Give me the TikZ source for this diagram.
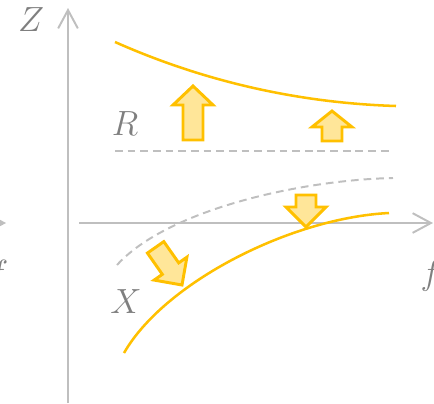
\documentclass[tikz,border=0pt]{standalone}
\usetikzlibrary{arrows.meta}

\definecolor{gold}{HTML}{FFC000}
\definecolor{goldfill}{HTML}{FFE699}
\definecolor{axisgray}{HTML}{BFBFBF}
\definecolor{labelgray}{HTML}{7F7F7F}

% fat block arrow: tip x, tip y, rotation, length, head length
\newcommand{\fatarrow}[5]{%
  \draw[fatarr, shift={(#1,#2)}, rotate=#3]
    (0,0) -- (20,#5) -- (10,#5) -- (10,#4) -- (-10,#4) -- (-10,#5) -- (-20,#5) -- cycle;}

\begin{document}
\begin{tikzpicture}[
        x=0.025cm, y=-0.025cm,
        axis/.style={draw=axisgray, line width=1.4pt, -{Straight Barb[length=13pt, width=14pt, line width=1.4pt]}},
        guide/.style={draw=axisgray, line width=1.4pt, dash pattern=on 5.5pt off 3.5pt},
        curve/.style={draw=gold, line width=1.8pt},
        fatarr/.style={draw=gold, fill=goldfill, line width=2.1pt, line join=miter},
        lbl/.style={text=labelgray, inner sep=0pt, font=\fontsize{25}{30}\selectfont}
    ]
        \useasboundingbox (0,0) rectangle (434,403);
        \clip (0,0) rectangle (434,403);

        % axes
        \draw[axis] (68,403) -- (68,8);
        \draw[axis] (79,223) -- (433,223);
        \draw[axis] (-40,223) -- (6,223);

        \node[lbl] (zlab) at (31,20) {$Z$};
        \node[lbl] (flab) at (431,276) {$f$};
        \node[lbl] (fprev) at (-2,276) {$f$};
        \node[lbl] (rlab) at (125,124) {$R$};
        \node[lbl] (xlab) at (126,302) {$X$};

        % reference lines
        \draw[guide] (115,151) -- (392,151);
        \draw[guide] (117,265) .. controls (167,210) and (300,180) .. (393,178);

        % curves
        \draw[curve] (115,42) .. controls (205,82) and (300,103) .. (396,106);
        \draw[curve] (124,353) .. controls (164,283) and (290,218) .. (389,213);

        % shifts
        \fatarrow{193}{86}{0}{54}{19}
        \fatarrow{332}{111}{0}{30}{16}
        \fatarrow{306}{227}{180}{32}{20}
        \fatarrow{182}{285}{-145}{46}{20}
    \end{tikzpicture}
\end{document}
